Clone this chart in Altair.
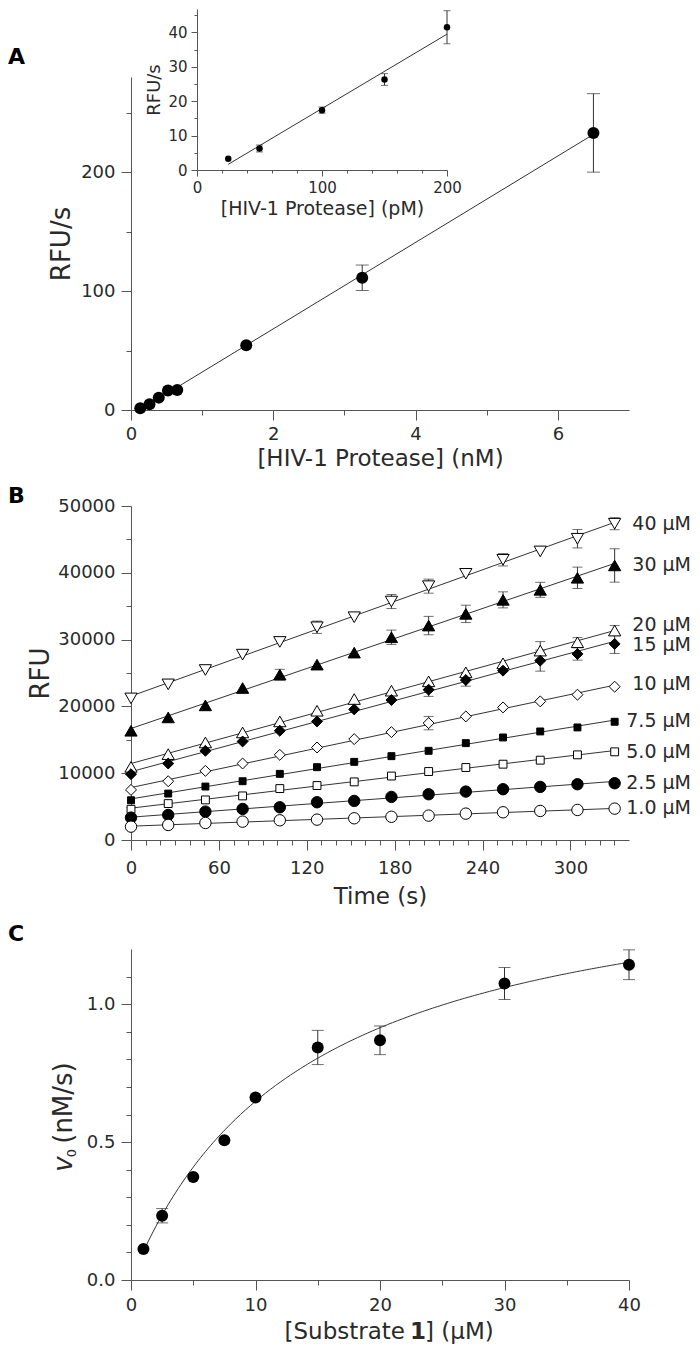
import altair as alt
import pandas as pd

FONT = "DejaVu Sans"
INK = "#2a2a2a"
AXC = "#555555"
LINE = "#333333"
W = 498

# ---------------- Panel A : rate vs [HIV-1 protease] (nM) ----------------
a_conc = [0.13, 0.26, 0.39, 0.52, 0.65, 1.62, 3.25, 6.5]
a_rate = [1.4, 4.8, 10.4, 16.3, 16.8, 54.5, 111.2, 233.0]
a_err = [0, 0, 0, 0, 0, 0, 10.7, 33.0]
a_xticks = [0, 1, 2, 3, 4, 5, 6]
a_yticks = [0, 50, 100, 150, 200, 250]

# ---------------- Panel A inset (pM) ----------------
i_conc = [25, 50, 100, 150, 200]
i_rate = [3.3, 6.25, 17.4, 26.3, 41.5]
i_err = [0, 1.0, 0.9, 1.7, 4.8]
i_xticks = [0, 20, 40, 60, 80, 100, 120, 140, 160, 180, 200]
i_yticks = [0, 5, 10, 15, 20, 25, 30, 35, 40, 45]

# ---------------- Panel B : progress curves ----------------
b_time = [0, 25.4, 50.8, 76.2, 101.6, 127.0, 152.4, 177.8, 203.2, 228.6, 254.0, 279.4, 304.8, 330.2]
b_series = ["40 µM", "30 µM", "20 µM", "15 µM", "10 µM", "7.5 µM", "5.0 µM", "2.5 µM", "1.0 µM"]
b_rfu_40 = [21200, 23300, 25450, 27750, 29650, 31850, 33350, 35700, 38000, 39850, 41950, 43200, 45100, 47350]
b_rfu_30 = [16350, 18350, 20150, 22750, 24750, 26250, 28050, 30350, 32100, 33850, 35950, 37450, 39250, 41100]
b_rfu_20 = [10950, 12850, 14600, 16100, 17750, 19350, 21100, 22350, 23750, 25100, 26450, 28350, 29600, 31350]
b_rfu_15 = [9850, 11450, 13350, 14750, 16350, 17750, 19550, 20950, 22500, 23950, 25350, 26850, 27850, 29350]
b_rfu_10 = [7500, 8800, 10350, 11450, 12750, 13850, 15100, 16150, 17500, 18500, 19850, 20750, 21750, 22950]
b_rfu_7_5 = [5950, 6950, 8000, 8800, 9900, 10900, 11700, 12550, 13350, 14500, 15350, 16250, 16850, 17700]
b_rfu_5_0 = [4600, 5450, 6000, 6600, 7700, 8150, 8700, 9575, 10250, 10850, 11350, 11950, 12750, 13200]
b_rfu_2_5 = [3350, 3750, 4250, 4650, 4900, 5650, 5850, 6450, 6850, 7250, 7600, 7950, 8350, 8500]
b_rfu_1_0 = [2000, 2250, 2550, 2750, 2950, 3050, 3250, 3475, 3650, 3950, 4150, 4350, 4500, 4700]
b_err_40 = [0, 0, 0, 0, 0, 925, 0, 1050, 1050, 0, 925, 0, 1375, 900]
b_err_30 = [0, 0, 0, 0, 800, 0, 0, 1075, 1375, 1300, 1200, 1125, 1600, 2500]
b_err_20 = [0, 0, 0, 0, 0, 0, 0, 0, 0, 0, 0, 1350, 700, 750]
b_err_15 = [0, 0, 0, 0, 0, 0, 0, 0, 1000, 925, 0, 1575, 925, 1425]
b_err_10 = [0, 0, 0, 0, 0, 0, 0, 0, 1000, 0, 0, 0, 0, 0]
b_err_0 = [0] * 14
b_label_y = [47350, 41100, 32250, 29250, 23350, 17750, 13100, 8500, 4850]
b_xticks = [0, 10, 20, 30, 40, 50, 60, 70, 80, 90, 100, 110, 120, 130, 140, 150, 160,
            170, 180, 190, 200, 210, 220, 230, 240, 250, 260, 270, 280, 290, 300, 310, 320, 330]
b_yticks = [0, 5000, 10000, 15000, 20000, 25000, 30000, 35000, 40000, 45000, 50000]

# ---------------- Panel C : Michaelis-Menten ----------------
c_sub = [1, 2.5, 5, 7.5, 10, 15, 20, 30, 40]
c_v0 = [0.112, 0.233, 0.373, 0.507, 0.662, 0.843, 0.869, 1.075, 1.143]
c_err = [0, 0.026, 0, 0, 0, 0.062, 0.052, 0.058, 0.054]
KM = 14.0
VMAX = 1.555
c_xticks = [0, 5, 10, 15, 20, 25, 30, 35, 40]
c_yticks = [0.0, 0.1, 0.2, 0.3, 0.4, 0.5, 0.6, 0.7, 0.8, 0.9, 1.0, 1.1]

# marker styles for panel B (not data)
b_shape = ["triangle-down", "triangle-up", "triangle-up", "diamond", "diamond",
           "square", "square", "circle", "circle"]
b_fill = ["white", "black", "white", "black", "white", "black", "white", "black", "white"]
b_size = [150, 150, 150, 120, 120, 48, 62, 130, 130]


def ax(values, test, fmt, pad, big=10, small=5, lab=18, title=None, tpad=4,
       tsize=23, **kw):
    return alt.Axis(
        values=values, format=fmt,
        labelExpr=f"({test}) ? datum.label : ''",
        tickSize={"condition": {"test": test, "value": big}, "value": small},
        labelPadding=pad, labelFontSize=lab, labelFont=FONT, labelColor=INK,
        domainColor=AXC, tickColor=AXC, tickWidth=1, domainWidth=1,
        title=title, titleFont=FONT, titleFontSize=tsize, titleFontWeight="normal",
        titleColor=INK, titlePadding=tpad, grid=False, labelOverlap=False,
        labelFlush=False, **kw)


def err_frame(xs, ys, es, extra=None):
    rows = []
    for a, b, c in zip(xs, ys, es):
        if c > 0:
            r = {"x": a, "lo": b - c, "hi": b + c}
            if extra is not None:
                r["s"] = extra
            rows.append(r)
    return rows


def spacer(top, bottom):
    return alt.Chart(pd.DataFrame({"d": [0]})).mark_rule(opacity=0).encode(
        x=alt.value(0), y=alt.value(top), y2=alt.value(bottom))


def panel_label(txt, dy):
    return alt.Chart(pd.DataFrame({"t": [txt]})).mark_text(
        font=FONT, fontSize=22, fontWeight="bold", color="black",
        align="left", baseline="alphabetic").encode(
        x=alt.value(-123), y=alt.value(dy), text="t:N")


# ======================= Panel A =======================
dfA = pd.DataFrame({"x": a_conc, "y": a_rate})
eA = pd.DataFrame(err_frame(a_conc, a_rate, a_err))
xA = alt.Scale(domain=[0, 7], nice=False)
yA = alt.Scale(domain=[0, 280], nice=False)
axAx = ax(a_xticks, "datum.value % 2 === 0", "d", 5, title="[HIV-1 Protease] (nM)", tpad=4)
axAy = ax(a_yticks, "datum.value % 100 === 0", "d", 6, title="RFU/s", tpad=6, tsize=26)

XA = alt.X("x:Q", scale=xA, axis=axAx)
a_fit = alt.Chart(dfA).transform_regression("x", "y").mark_line(
    color=LINE, strokeWidth=1).encode(x=XA, y=alt.Y("y:Q", scale=yA, axis=axAy))
a_bar = alt.Chart(eA).mark_rule(color=LINE, strokeWidth=1).encode(
    x=XA, y=alt.Y("lo:Q", scale=yA, axis=axAy), y2="hi:Q")
a_cap = alt.Chart(eA).transform_fold(["lo", "hi"], as_=["k", "v"]).mark_tick(
    orient="horizontal", size=13, thickness=1, color=LINE).encode(
    x=XA, y=alt.Y("v:Q", scale=yA, axis=axAy))
a_pts = alt.Chart(dfA).mark_point(shape="circle", filled=True, size=144,
                                  color="black", opacity=1).encode(
    x=XA, y=alt.Y("y:Q", scale=yA, axis=axAy))

main_A = alt.layer(a_fit, a_bar, a_cap, a_pts, spacer(-68, 404), panel_label("A", -13))

# inset
dfI = pd.DataFrame({"x": i_conc, "y": i_rate})
eI = pd.DataFrame(err_frame(i_conc, i_rate, i_err))
xI = alt.Scale(domain=[0, 200], range=[66, 316], nice=False)
yI = alt.Scale(domain=[0, 46.8], range=[93, -68], nice=False)
axIx = ax(i_xticks, "datum.value % 100 === 0", "d", 4, big=6, small=3, lab=15,
          title="[HIV-1 Protease] (pM)", tpad=4, tsize=19, orient="bottom", offset=-240)
axIy = ax(i_yticks, "datum.value % 10 === 0", "d", 4, big=6, small=3, lab=15,
          title="RFU/s", tpad=4, tsize=18, orient="left", offset=-66)
XI = alt.X("x:Q", scale=xI, axis=axIx)
i_fit = alt.Chart(dfI).transform_regression("x", "y").mark_line(
    color=LINE, strokeWidth=1).encode(x=XI, y=alt.Y("y:Q", scale=yI, axis=axIy))
i_bar = alt.Chart(eI).mark_rule(color=LINE, strokeWidth=1).encode(
    x=XI, y=alt.Y("lo:Q", scale=yI, axis=axIy), y2="hi:Q")
i_cap = alt.Chart(eI).transform_fold(["lo", "hi"], as_=["k", "v"]).mark_tick(
    orient="horizontal", size=7, thickness=1, color=LINE).encode(
    x=XI, y=alt.Y("v:Q", scale=yI, axis=axIy))
i_pts = alt.Chart(dfI).mark_point(shape="circle", filled=True, size=42,
                                  color="black", opacity=1).encode(
    x=XI, y=alt.Y("y:Q", scale=yI, axis=axIy))
inset_A = alt.layer(i_fit, i_bar, i_cap, i_pts)

panelA = alt.layer(main_A, inset_A).resolve_scale(
    x="independent", y="independent").properties(width=W, height=333)

# ======================= Panel B =======================
b_rfu = [b_rfu_40, b_rfu_30, b_rfu_20, b_rfu_15, b_rfu_10, b_rfu_7_5, b_rfu_5_0, b_rfu_2_5, b_rfu_1_0]
b_err = [b_err_40, b_err_30, b_err_20, b_err_15, b_err_10, b_err_0, b_err_0, b_err_0, b_err_0]
rowsB, rowsEB = [], []
for s, vals, errs in zip(b_series, b_rfu, b_err):
    for t, v in zip(b_time, vals):
        rowsB.append({"s": s, "x": t, "y": v})
    rowsEB += err_frame(b_time, vals, errs, extra=s)
dfB = pd.DataFrame(rowsB)
eB = pd.DataFrame(rowsEB)
dfBL = pd.DataFrame({"lab": b_series, "ly": b_label_y})

xB = alt.Scale(domain=[0, 340], nice=False)
yB = alt.Scale(domain=[0, 50000], nice=False)
axBx = ax(b_xticks, "datum.value % 60 === 0", "d", 9, title="Time (s)", tpad=8)
axBy = ax(b_yticks, "datum.value % 10000 === 0", "d", 6, title="RFU", tpad=4, tsize=26)
XB = alt.X("x:Q", scale=xB, axis=axBx)
YB = alt.Y("y:Q", scale=yB, axis=axBy)

b_fit = alt.Chart(dfB).transform_regression("x", "y", groupby=["s"]).mark_line(
    color=LINE, strokeWidth=1).encode(x=XB, y=YB, detail="s:N")
b_bar = alt.Chart(eB).mark_rule(color=LINE, strokeWidth=1).encode(
    x=XB, y=alt.Y("lo:Q", scale=yB, axis=axBy), y2="hi:Q")
b_cap = alt.Chart(eB).transform_fold(["lo", "hi"], as_=["k", "v"]).mark_tick(
    orient="horizontal", size=10, thickness=1, color=LINE).encode(
    x=XB, y=alt.Y("v:Q", scale=yB, axis=axBy))
b_layers = [b_fit, b_bar, b_cap]
for s, shp, fil, sz in zip(b_series, b_shape, b_fill, b_size):
    b_layers.append(
        alt.Chart(dfB).transform_filter(alt.datum.s == s).mark_point(
            shape=shp, fill=fil, stroke="black", strokeWidth=1, size=sz,
            opacity=1, fillOpacity=1).encode(x=XB, y=YB))
b_text = alt.Chart(dfBL).mark_text(font=FONT, fontSize=19, color=INK, align="right",
                                   baseline="middle").encode(
    x=alt.value(560), y=alt.Y("ly:Q", scale=yB, axis=axBy), text="lab:N")
b_layers += [b_text, spacer(-25, 415), panel_label("B", -3)]
panelB = alt.layer(*b_layers).properties(width=W, height=334)

# ======================= Panel C =======================
dfC = pd.DataFrame({"x": c_sub, "y": c_v0})
eC = pd.DataFrame(err_frame(c_sub, c_v0, c_err))
xC = alt.Scale(domain=[0, 40], nice=False)
yC = alt.Scale(domain=[0, 1.2], nice=False)
axCx = ax(c_xticks, "datum.value % 10 === 0", "d", 6, title=None)
axCy = ax(c_yticks, "abs(datum.value * 2 - round(datum.value * 2)) < 0.001", ".1f", 6, title=None)
XC = alt.X("x:Q", scale=xC, axis=axCx)
YC = alt.Y("y:Q", scale=yC, axis=axCy)

c_fit = alt.Chart(alt.sequence(1, 40.01, 0.2, as_="S")).transform_calculate(
    x="datum.S", y=f"{VMAX} * datum.S / ({KM} + datum.S)").mark_line(
    color=LINE, strokeWidth=1).encode(x=XC, y=YC)
c_bar = alt.Chart(eC).mark_rule(color=LINE, strokeWidth=1).encode(
    x=XC, y=alt.Y("lo:Q", scale=yC, axis=axCy), y2="hi:Q")
c_cap = alt.Chart(eC).transform_fold(["lo", "hi"], as_=["k", "v"]).mark_tick(
    orient="horizontal", size=12, thickness=1, color=LINE).encode(
    x=XC, y=alt.Y("v:Q", scale=yC, axis=axCy))
c_pts = alt.Chart(dfC).mark_point(shape="circle", filled=True, size=144,
                                  color="black", opacity=1).encode(x=XC, y=YC)


def txt(t, x, y, size, align="center", baseline="alphabetic", angle=0, weight="normal",
        style="normal"):
    kw = dict(font=FONT, fontSize=size, color=INK, align=align, baseline=baseline,
              fontWeight=weight, fontStyle=style)
    if angle:
        kw["angle"] = angle
    return alt.Chart(pd.DataFrame({"t": [t]})).mark_text(**kw).encode(
        x=alt.value(x), y=alt.value(y), text="t:N")


c_titles = [
    txt("[Substrate", 274, 390, 23, align="right"),
    txt("1", 287, 390, 23, weight="bold"),
    txt("] (µM)", 294, 390, 23, align="left"),
    txt("v", -59, 215, 26, angle=270, style="italic"),
    txt("0", -55, 204, 13, angle=270),
    txt("(nM/s)", -59, 154, 26, angle=270),
]
panelC = alt.layer(c_fit, c_bar, c_cap, c_pts, *c_titles, spacer(-28, 331),
                   panel_label("C", -8)).properties(width=W, height=331)

chart = alt.vconcat(panelA, panelB, panelC, spacing=0).properties(
    padding=0).configure_view(stroke=None)

chart.save("out.html", embed_options={"renderer": "svg", "actions": False})
